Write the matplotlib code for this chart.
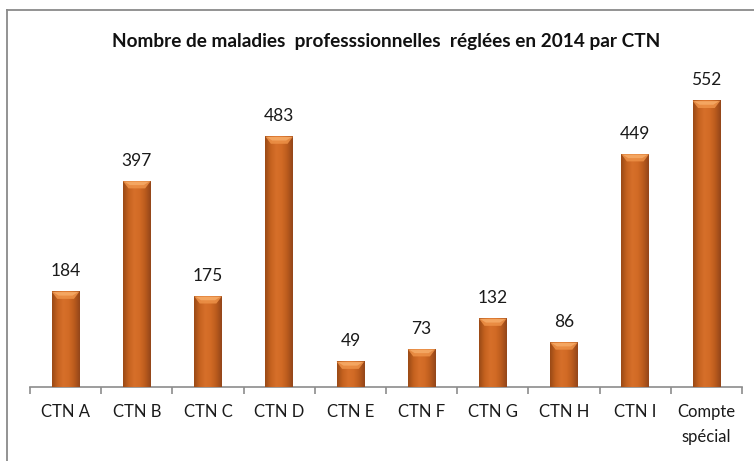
import numpy as np
import matplotlib
matplotlib.use("Agg")
import matplotlib.pyplot as plt
from matplotlib.lines import Line2D
from matplotlib.colors import LinearSegmentedColormap

# data
categories = ["CTN A", "CTN B", "CTN C", "CTN D", "CTN E", "CTN F",
              "CTN G", "CTN H", "CTN I", "Compte\nspécial"]
values = [184, 397, 175, 483, 49, 73, 132, 86, 449, 552]
title = "Nombre de maladies  professsionnelles  réglées en 2014 par CTN"

plt.rcParams['font.family'] = ['Lato', 'DejaVu Sans']

fig = plt.figure(figsize=(7.54, 4.61), dpi=100)
ax = fig.add_axes([0.0398, 0.1605, 0.9443, 0.675])

x = np.arange(len(values))
w = 0.39

# horizontal shading of the bars: dark edges, lighter middle
shade = LinearSegmentedColormap.from_list(
    "bar", ["#9a4a16", "#c5621f", "#d66f2a", "#d26b25", "#bb5b1d", "#93461a"])
grad = np.linspace(0, 1, 64).reshape(1, -1)

bars = ax.bar(x, values, width=w, color="#cf6923", zorder=2)
for b in bars:
    x0, h = b.get_x(), b.get_height()
    ax.imshow(grad, cmap=shade, aspect="auto", zorder=3,
              extent=[x0, x0 + w, 0, h], interpolation="bicubic")
    # lighter rounded cap on top of each bar
    cap = 14.0
    ax.fill([x0, x0 + w, x0 + w * 0.8, x0 + w * 0.2],
            [h, h, h - cap, h - cap], color="#ee9248", alpha=0.85,
            zorder=4, lw=0)
    ax.fill([x0 + w * 0.05, x0 + w * 0.95, x0 + w * 0.75, x0 + w * 0.25],
            [h - 1, h - 1, h - cap * 0.55, h - cap * 0.55],
            color="#f7ad6a", alpha=0.8, zorder=5, lw=0)
    ax.annotate(str(int(h)), (x0 + w / 2, h), xytext=(0, 9),
                textcoords="offset points", ha="center", va="bottom",
                fontsize=12.5, color="#1a1a1a")

ax.set_xlim(-0.5, len(values) - 0.5)
ax.set_ylim(0, 600)

for s in ["top", "right", "left"]:
    ax.spines[s].set_visible(False)
ax.spines["bottom"].set_color("#8c8c8c")
ax.spines["bottom"].set_linewidth(1.2)

ax.set_yticks([])
ax.set_xticks(x)
ax.set_xticklabels(categories, fontsize=12, color="#1a1a1a", linespacing=1.75)
ax.tick_params(axis="x", which="major", length=0, pad=12)
ax.set_xticks(np.arange(-0.5, len(values)), minor=True)
ax.tick_params(axis="x", which="minor", length=5, width=1.2, color="#8c8c8c")

fig.text(0.512, 0.909, title, ha="center", va="center",
         fontsize=13.7, fontweight="bold", color="#111111")

# chart frame (only left and top edges visible in the crop)
fig.add_artist(Line2D([0.0093, 0.0093], [0, 0.978], color="#8a8a8a", lw=1.3))
fig.add_artist(Line2D([0.0093, 1.0], [0.978, 0.978], color="#8a8a8a", lw=1.3))

fig.savefig("out.png", dpi=100)
